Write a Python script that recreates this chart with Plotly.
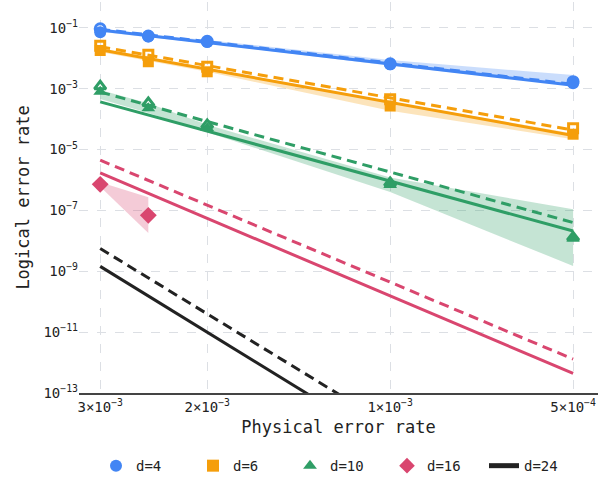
import plotly.graph_objects as go

# Physical error rates sampled
P = [3e-3, 2.5e-3, 2e-3, 1e-3, 5e-4]
P_FIT = [3e-3, 5e-4]

# d=4
d4_filled = [0.072, 0.052, 0.034, 0.0064, 0.0015]
d4_open = [0.093, 0.054, 0.036, 0.0066, 0.0017]
d4_band_hi = [0.092, 0.060, 0.040, 0.0088, 0.0028]
d4_band_lo = [0.075, 0.049, 0.031, 0.0057, 0.0013]
d4_fit = [0.085, 0.0013]
d4_fit_dashed = [0.090, 0.0014]

# d=6
d6_filled = [0.018, 0.0077, 0.0036, 0.00027, 3.2e-5]
d6_open = [0.026, 0.013, 0.0053, 0.00045, 5.0e-5]
d6_band_hi = [0.021, 0.011, 0.0048, 0.00038, 3.4e-5]
d6_band_lo = [0.016, 0.0082, 0.0036, 0.00019, 2.2e-5]
d6_fit = [0.019, 2.9e-5]
d6_fit_dashed = [0.024, 4.4e-5]

# d=10
d10_filled = [7.9e-4, 2.3e-4, 5.1e-5, 6.8e-7, 1.2e-8]
d10_open = [1.2e-3, 3.4e-4, 6.5e-5, 8.0e-7, 1.3e-8]
d10_band_hi = [9.0e-4, 3.3e-4, 6.5e-5, 1.2e-6, 1.1e-7]
d10_band_lo = [4.6e-4, 1.6e-4, 3.6e-5, 4.0e-7, 1.5e-9]
d10_fit = [3.7e-4, 2.1e-8]
d10_fit_dashed = [7.8e-4, 4.0e-8]

# d=16
P16 = [3e-3, 2.5e-3]
d16_filled = [7.2e-7, 6.9e-8]
d16_band_hi = [8.5e-7, 2.7e-7]
d16_band_lo = [6.0e-7, 1.8e-8]
d16_fit = [1.7e-6, 4.4e-13]
d16_fit_dashed = [4.5e-6, 1.3e-12]

# d=24 (projection only)
d24_fit = [1.45e-9, 4.0e-19]
d24_fit_dashed = [5.6e-9, 1.8e-18]

X_TICKS = [3e-3, 2e-3, 1e-3, 5e-4]
X_TICKTEXT = ["3×10<sup>−3</sup>", "2×10<sup>−3</sup>", "1×10<sup>−3</sup>", "5×10<sup>−4</sup>"]
Y_TICKS = [1e-1, 1e-3, 1e-5, 1e-7, 1e-9, 1e-11, 1e-13]
Y_TICKTEXT = ["10<sup>−1</sup>", "10<sup>−3</sup>", "10<sup>−5</sup>", "10<sup>−7</sup>",
              "10<sup>−9</sup>", "10<sup>−11</sup>", "10<sup>−13</sup>"]

BLUE = "#4285f4"
ORANGE = "#f59e0b"
GREEN = "#2f9e66"
PINK = "#d9466f"
BLACK = "#222222"


def rgba(hex_color, a):
    h = hex_color.lstrip("#")
    r, g, b = int(h[0:2], 16), int(h[2:4], 16), int(h[4:6], 16)
    return f"rgba({r},{g},{b},{a})"


fig = go.Figure()


def add_band(x, hi, lo, color):
    fig.add_trace(go.Scatter(
        x=list(x) + list(x)[::-1], y=list(hi) + list(lo)[::-1],
        mode="lines", fill="toself", fillcolor=rgba(color, 0.28),
        line=dict(width=0), hoverinfo="skip", showlegend=False))


def add_fit(y_solid, y_dashed, color, name, legend=False):
    fig.add_trace(go.Scatter(x=P_FIT, y=y_dashed, mode="lines",
                             line=dict(color=color, width=3, dash="10px,6px"),
                             showlegend=False))
    fig.add_trace(go.Scatter(x=P_FIT, y=y_solid, mode="lines", name=name,
                             line=dict(color=color, width=3),
                             showlegend=legend))


def add_points(x, filled, opened, color, symbol, size, name):
    if opened is not None:
        fig.add_trace(go.Scatter(x=x, y=opened, mode="markers",
                                 marker=dict(symbol=symbol + "-open", size=size - 2, color=color,
                                             line=dict(width=3, color=color)),
                                 showlegend=False))
    fig.add_trace(go.Scatter(x=x, y=filled, mode="markers", name=name,
                             marker=dict(symbol=symbol, size=size, color=color,
                                         line=dict(width=0))))


# confidence bands
add_band(P, d4_band_hi, d4_band_lo, BLUE)
add_band(P, d6_band_hi, d6_band_lo, ORANGE)
add_band(P, d10_band_hi, d10_band_lo, GREEN)
add_band(P16, d16_band_hi, d16_band_lo, PINK)

# fitted scaling lines
add_fit(d4_fit, d4_fit_dashed, BLUE, "d=4")
add_fit(d6_fit, d6_fit_dashed, ORANGE, "d=6")
add_fit(d10_fit, d10_fit_dashed, GREEN, "d=10")
add_fit(d16_fit, d16_fit_dashed, PINK, "d=16")

# measured points
add_points(P, d4_filled, d4_open, BLUE, "circle", 12, "d=4")
add_points(P, d6_filled, d6_open, ORANGE, "square", 11, "d=6")
add_points(P, d10_filled, d10_open, GREEN, "triangle-up", 12, "d=10")
add_points(P16, d16_filled, None, PINK, "diamond", 13, "d=16")

add_fit(d24_fit, d24_fit_dashed, BLACK, "d=24", legend=True)

FONT = "DejaVu Sans Mono"

fig.update_layout(
    width=611, height=479,
    margin=dict(l=79, r=13, t=2, b=86),
    paper_bgcolor="white", plot_bgcolor="white",
    font=dict(family=FONT, size=14, color="#222"),
    legend=dict(orientation="h", x=0.5, xanchor="center",
                yref="container", y=0.027, yanchor="middle",
                font=dict(size=14), entrywidth=52, itemsizing="constant",
                traceorder="normal"),
    xaxis=dict(
        type="log", range=[-2.488, -3.342],
        tickvals=X_TICKS, ticktext=X_TICKTEXT,
        showgrid=True, gridcolor="#dcdfe4", griddash="dash", gridwidth=1,
        showline=True, linecolor="#444", linewidth=1.5,
        ticks="", zeroline=False,
        title=dict(text="Physical error rate", font=dict(size=17), standoff=8),
        tickfont=dict(size=14),
    ),
    yaxis=dict(
        type="log", range=[-13, -0.15],
        tickvals=Y_TICKS, ticktext=Y_TICKTEXT,
        showgrid=True, gridcolor="#dcdfe4", griddash="dash", gridwidth=1,
        showline=False, ticks="", zeroline=False,
        title=dict(text="Logical error rate", font=dict(size=17), standoff=9),
        tickfont=dict(size=14),
    ),
)

fig.write_html("out.html")
